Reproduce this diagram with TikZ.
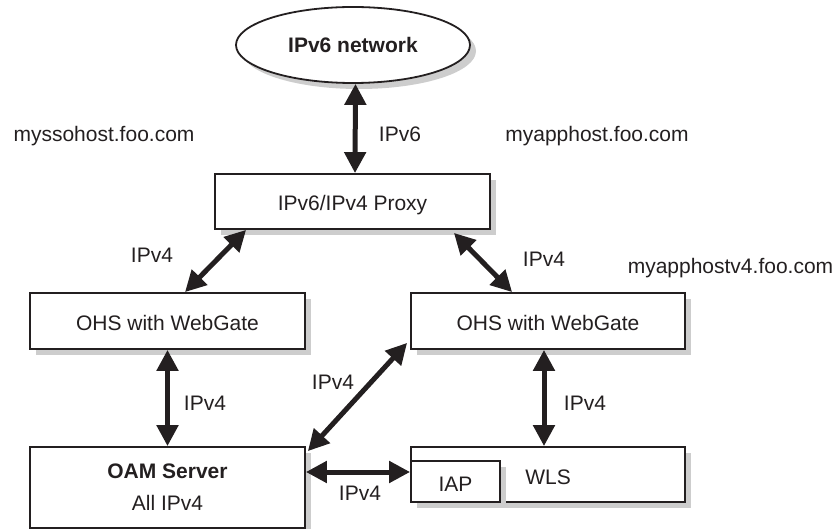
\documentclass[tikz,border=0pt]{standalone}
\usepackage{fontspec}
\setmainfont{Liberation Sans}
\definecolor{InkGray}{RGB}{35,31,32}
\definecolor{ShadeGray}{RGB}{205,205,205}
\usetikzlibrary{arrows.meta, shapes.geometric, shadows, positioning}

\begin{document}
\begin{tikzpicture}[x=1pt, y=-1pt,
  every node/.style={font=\fontsize{21}{32}\selectfont, text=InkGray},
  box/.style={draw=InkGray, line width=1.8pt, fill=white, inner sep=0pt,
    drop shadow={shadow xshift=6pt, shadow yshift=-6pt, fill=ShadeGray, opacity=1}},
  oneline/.style={text height=19pt, text depth=0pt},
  link/.style={draw=InkGray, line width=5pt,
    {Triangle[length=21pt,width=21pt]}-{Triangle[length=21pt,width=21pt]}},
  lbl/.style={anchor=base, inner sep=0pt}]
  \useasboundingbox (0,0) rectangle (836,529);

  % network and proxy
  \node[box, ellipse, minimum width=234pt, minimum height=76pt,
        font=\fontsize{21}{25}\selectfont\bfseries] (net) at (353,45) {IPv6 network};
  \node[box, oneline, minimum width=275pt, minimum height=55pt] (proxy) at (352.5,201.5) {IPv6/IPv4 Proxy};

  % web tier
  \node[box, oneline, minimum width=275pt, minimum height=56pt] (ohsl) at (167.5,321) {OHS with WebGate};
  \node[box, oneline, minimum width=274pt, minimum height=56pt] (ohsr) at (548,321) {OHS with WebGate};

  % servers
  \node[box, minimum width=275pt, minimum height=81pt, align=center] (oam) at (167.5,487.5)
    {\textbf{OAM Server}\\All IPv4};
  \node[box, oneline, minimum width=274pt, minimum height=55pt] (wls) at (548,474.5) {WLS};
  \node[box, oneline, minimum width=89pt, minimum height=41pt] (iap) at (455.5,481.5) {IAP};

  % host names
  \node[lbl] (ssohost) at (104,142) {myssohost.foo.com};
  \node[lbl] (apphost) at (597,142) {myapphost.foo.com};
  \node[lbl] (apphostv4) at (730.5,274) {myapphostv4.foo.com};

  % protocol labels
  \node[lbl] (lblnet) at (400,142) {IPv6};
  \node[lbl] (lblproxyl) at (152,263) {IPv4};
  \node[lbl] (lblproxyr) at (544,267) {IPv4};
  \node[lbl] (lblohsl) at (205,410) {IPv4};
  \node[lbl] (lbldiag) at (333,390) {IPv4};
  \node[lbl] (lbloam) at (360,500) {IPv4};
  \node[lbl] (lblohsr) at (585,410) {IPv4};

  % links
  \draw[link] ([xshift=2.5pt]net.south) -- ([xshift=2.5pt]proxy.north);
  \draw[link] ([xshift=32pt]proxy.south west) -- ([xshift=17.5pt]ohsl.north);
  \draw[link] ([xshift=-37pt, yshift=-3pt]proxy.south east) -- ([xshift=102pt]ohsr.north west);
  \draw[link] (ohsl.south) -- (oam.north);
  \draw[link] ([xshift=-4pt]ohsr.south) -- ([xshift=-4pt]wls.north);
  \draw[link] ([xshift=2pt, yshift=-5pt]oam.north east) -- ([xshift=-3pt, yshift=7pt]ohsr.south west);
  \draw[link] ([yshift=15.5pt]oam.east) -- ([yshift=9.5pt]iap.west);
\end{tikzpicture}
\end{document}
